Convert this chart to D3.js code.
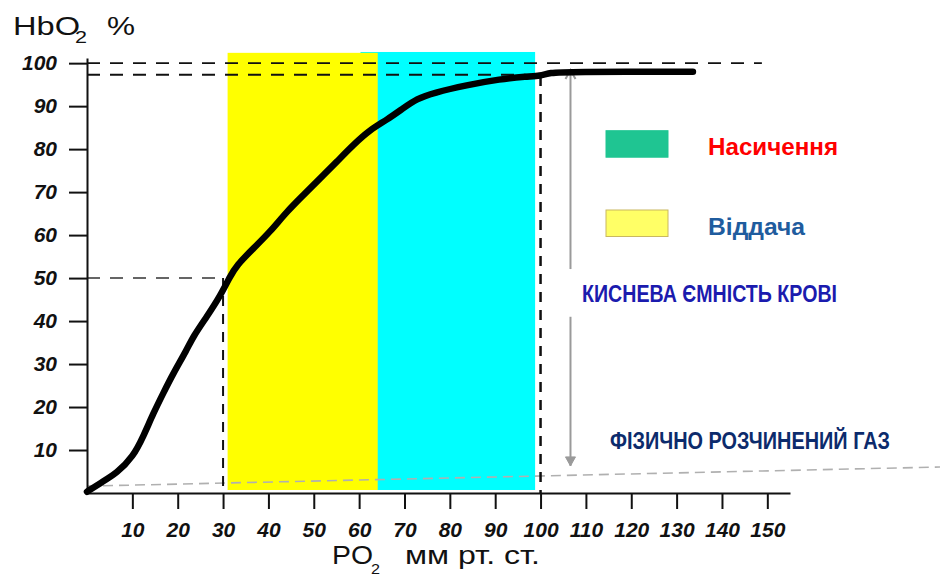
<!DOCTYPE html>
<html><head><meta charset="utf-8">
<script src="https://cdn.jsdelivr.net/npm/d3@7"></script>
<style>
html,body{margin:0;padding:0;background:#fff;}
svg{display:block;}
</style></head>
<body>
<svg id="c" width="940" height="577"></svg>
<script>
// ---- data ----
const xTicks = [10,20,30,40,50,60,70,80,90,100,110,120,130,140,150];
const yTicks = [10,20,30,40,50,60,70,80,90,100];
const po2  = [0,2.9,6.6,10.2,12.4,14.6,16.8,19.0,22.0,23.4,26.4,29.3,31.5,33.0,36.7,40.4,44.0,47.7,51.4,55.1,58.7,62.4,66.1,69.7,72.7,76.4,83.7,91.1,97.0,99.9,102.1,105.8,133.6];
const hbo2 = [0.3,2.3,4.6,8.5,13.1,18.5,23.2,27.8,33.3,36.4,41.0,45.7,50.3,53.0,56.9,60.8,65.4,69.3,73.2,77.1,81.0,84.5,86.8,89.5,91.7,93.1,94.9,96.3,96.9,97.0,97.8,98.0,98.0];
const bandNames  = ["Насичення","Віддача"];
const bandStart  = [60.3, 31.0];
const bandEnd    = [98.8, 64.1];
const bandTop    = [102.6, 102.4];
const bandBottom = [0.7, 0.7];
const dissolvedX = [0, 188.1];
const dissolvedY = [1.6, 6.05];
const capacityX = 106.6;
const capacityRange = [98.4, 6.3];
const capacityGap = [52.1, 41.0];
const labelCapacity = "КИСНЕВА ЄМНІСТЬ КРОВІ";
const labelDissolved = "ФІЗИЧНО РОЗЧИНЕНИЙ ГАЗ";

const svg = d3.select("#c");
const x = d3.scaleLinear().domain([0,155]).range([87,790]);
const y = d3.scaleLinear().domain([0,101.2]).range([493,58]);
const FONT = "'Liberation Sans', Arial, sans-serif";

// bands (cyan first, yellow on top)
const bandFill = ["#00ffff", "#ffff00"];
svg.append("g").selectAll("rect").data(bandNames).join("rect")
  .attr("x", (d,i)=>x(bandStart[i]))
  .attr("y", (d,i)=>y(bandTop[i]))
  .attr("width", (d,i)=>x(bandEnd[i])-x(bandStart[i]))
  .attr("height", (d,i)=>y(bandBottom[i])-y(bandTop[i]))
  .attr("fill", (d,i)=>bandFill[i]);

// dissolved gas line
svg.append("line")
  .attr("x1", x(dissolvedX[0])).attr("y1", y(dissolvedY[0]))
  .attr("x2", x(dissolvedX[1])).attr("y2", y(dissolvedY[1]))
  .attr("stroke", "#b0b0b0").attr("stroke-width", 1.6).attr("stroke-dasharray", "10,6");

// reference dashed lines
const refs = [
  {x1:0, y1:100, x2:148.8, y2:100, w:1.6, dash:"13,10", c:"#111"},
  {x1:0, y1:97.3, x2:98, y2:97.3, w:1.8, dash:"13,10", c:"#111"},
  {x1:0, y1:50, x2:30, y2:50, w:1.5, dash:"13,10", c:"#333"},
  {x1:30, y1:50, x2:30, y2:0, w:2, dash:"10,8", c:"#111"},
  {x1:100, y1:97, x2:100, y2:0, w:2.5, dash:"10,8", c:"#111"}
];
svg.append("g").selectAll("line").data(refs).join("line")
  .attr("x1", d=>x(d.x1)).attr("y1", d=>y(d.y1))
  .attr("x2", d=>x(d.x2)).attr("y2", d=>y(d.y2))
  .attr("stroke", d=>d.c).attr("stroke-width", d=>d.w)
  .attr("stroke-dasharray", d=>d.dash);

// capacity arrow
const ax = x(capacityX);
const arrowColor = "#9a9a9a";
svg.append("line").attr("x1", ax).attr("x2", ax)
  .attr("y1", y(capacityRange[0])).attr("y2", y(capacityGap[0]))
  .attr("stroke", arrowColor).attr("stroke-width", 2);
svg.append("line").attr("x1", ax).attr("x2", ax)
  .attr("y1", y(capacityGap[1])).attr("y2", y(capacityRange[1]))
  .attr("stroke", arrowColor).attr("stroke-width", 2);
const t0 = y(capacityRange[0]), b0 = y(capacityRange[1]);
svg.append("path").attr("d", `M${ax-5},${t0+9} L${ax},${t0} L${ax+5},${t0+9}`)
  .attr("fill","none").attr("stroke", arrowColor).attr("stroke-width", 2);
svg.append("path").attr("d", `M${ax-5},${b0-9} L${ax},${b0} L${ax+5},${b0-9} Z`)
  .attr("fill", arrowColor).attr("stroke", arrowColor).attr("stroke-width", 1);

// axes
const xAxis = d3.axisBottom(x).tickValues(xTicks).tickSize(16).tickSizeOuter(0).tickPadding(13).tickFormat(d3.format("d"));
const gx = svg.append("g").attr("transform", `translate(0,${y(0)})`).call(xAxis);
const yAxis = d3.axisLeft(y).tickValues(yTicks).tickSize(18).tickSizeOuter(0).tickPadding(12).tickFormat(d3.format("d"));
const gy = svg.append("g").attr("transform", `translate(${x(0)},0)`).call(yAxis);
[gx, gy].forEach(g => {
  g.select(".domain").attr("stroke", "#111").attr("stroke-width", 2);
  g.selectAll(".tick line").attr("stroke", "#111").attr("stroke-width", 2);
  g.selectAll(".tick text").attr("fill", "#111")
    .style("font-family", FONT).style("font-size", "21px")
    .style("font-weight", "bold").style("font-style", "italic");
});

// curve
const pts = po2.map((v,i)=>[v, hbo2[i]]);
svg.append("path").datum(pts)
  .attr("d", d3.line().x(d=>x(d[0])).y(d=>y(d[1])).curve(d3.curveBasis))
  .attr("fill","none").attr("stroke","#000").attr("stroke-width", 6.5)
  .attr("stroke-linecap","round").attr("stroke-linejoin","round");

// axis titles
function txt(s, px, py, size, opts={}) {
  const t = svg.append("text").attr("x", px).attr("y", py).text(s)
    .style("font-family", FONT).style("font-size", size+"px")
    .attr("fill", opts.fill || "#111");
  if (opts.bold) t.style("font-weight","bold");
  if (opts.len) t.attr("textLength", opts.len).attr("lengthAdjust","spacingAndGlyphs");
  return t;
}
txt("HbO", 13, 35, 25, {len: 67});
txt("2", 75, 43, 16, {len: 12});
txt("%", 107, 35, 25, {len: 28});
txt("PO", 332, 564, 26, {len: 41});
txt("2", 371, 574, 14, {len: 9});
txt("мм рт. ст.", 405, 564, 25, {len: 135});

// legend
const legFill = ["#1fc592", "#ffff66"];
const legStroke = ["#1fc592", "#c9b860"];
const legTextColor = ["#ff0000", "#1f5c9e"];
const legY = [130.7, 210];
bandNames.forEach((name, i) => {
  svg.append("rect").attr("x", 606).attr("y", legY[i]).attr("width", 62).attr("height", 26.5)
    .attr("fill", legFill[i]).attr("stroke", legStroke[i]).attr("stroke-width", 1);
  txt(name, 708, legY[i] + 24.5, 24, {bold:true, fill: legTextColor[i], len: i===0 ? 130 : 97});
});

// annotations
txt(labelCapacity, 582, 302, 23, {bold:true, fill:"#1b1bae", len: 255});
txt(labelDissolved, 610, 448.5, 23, {bold:true, fill:"#0c2b6c", len: 280});
</script>
</body></html>
